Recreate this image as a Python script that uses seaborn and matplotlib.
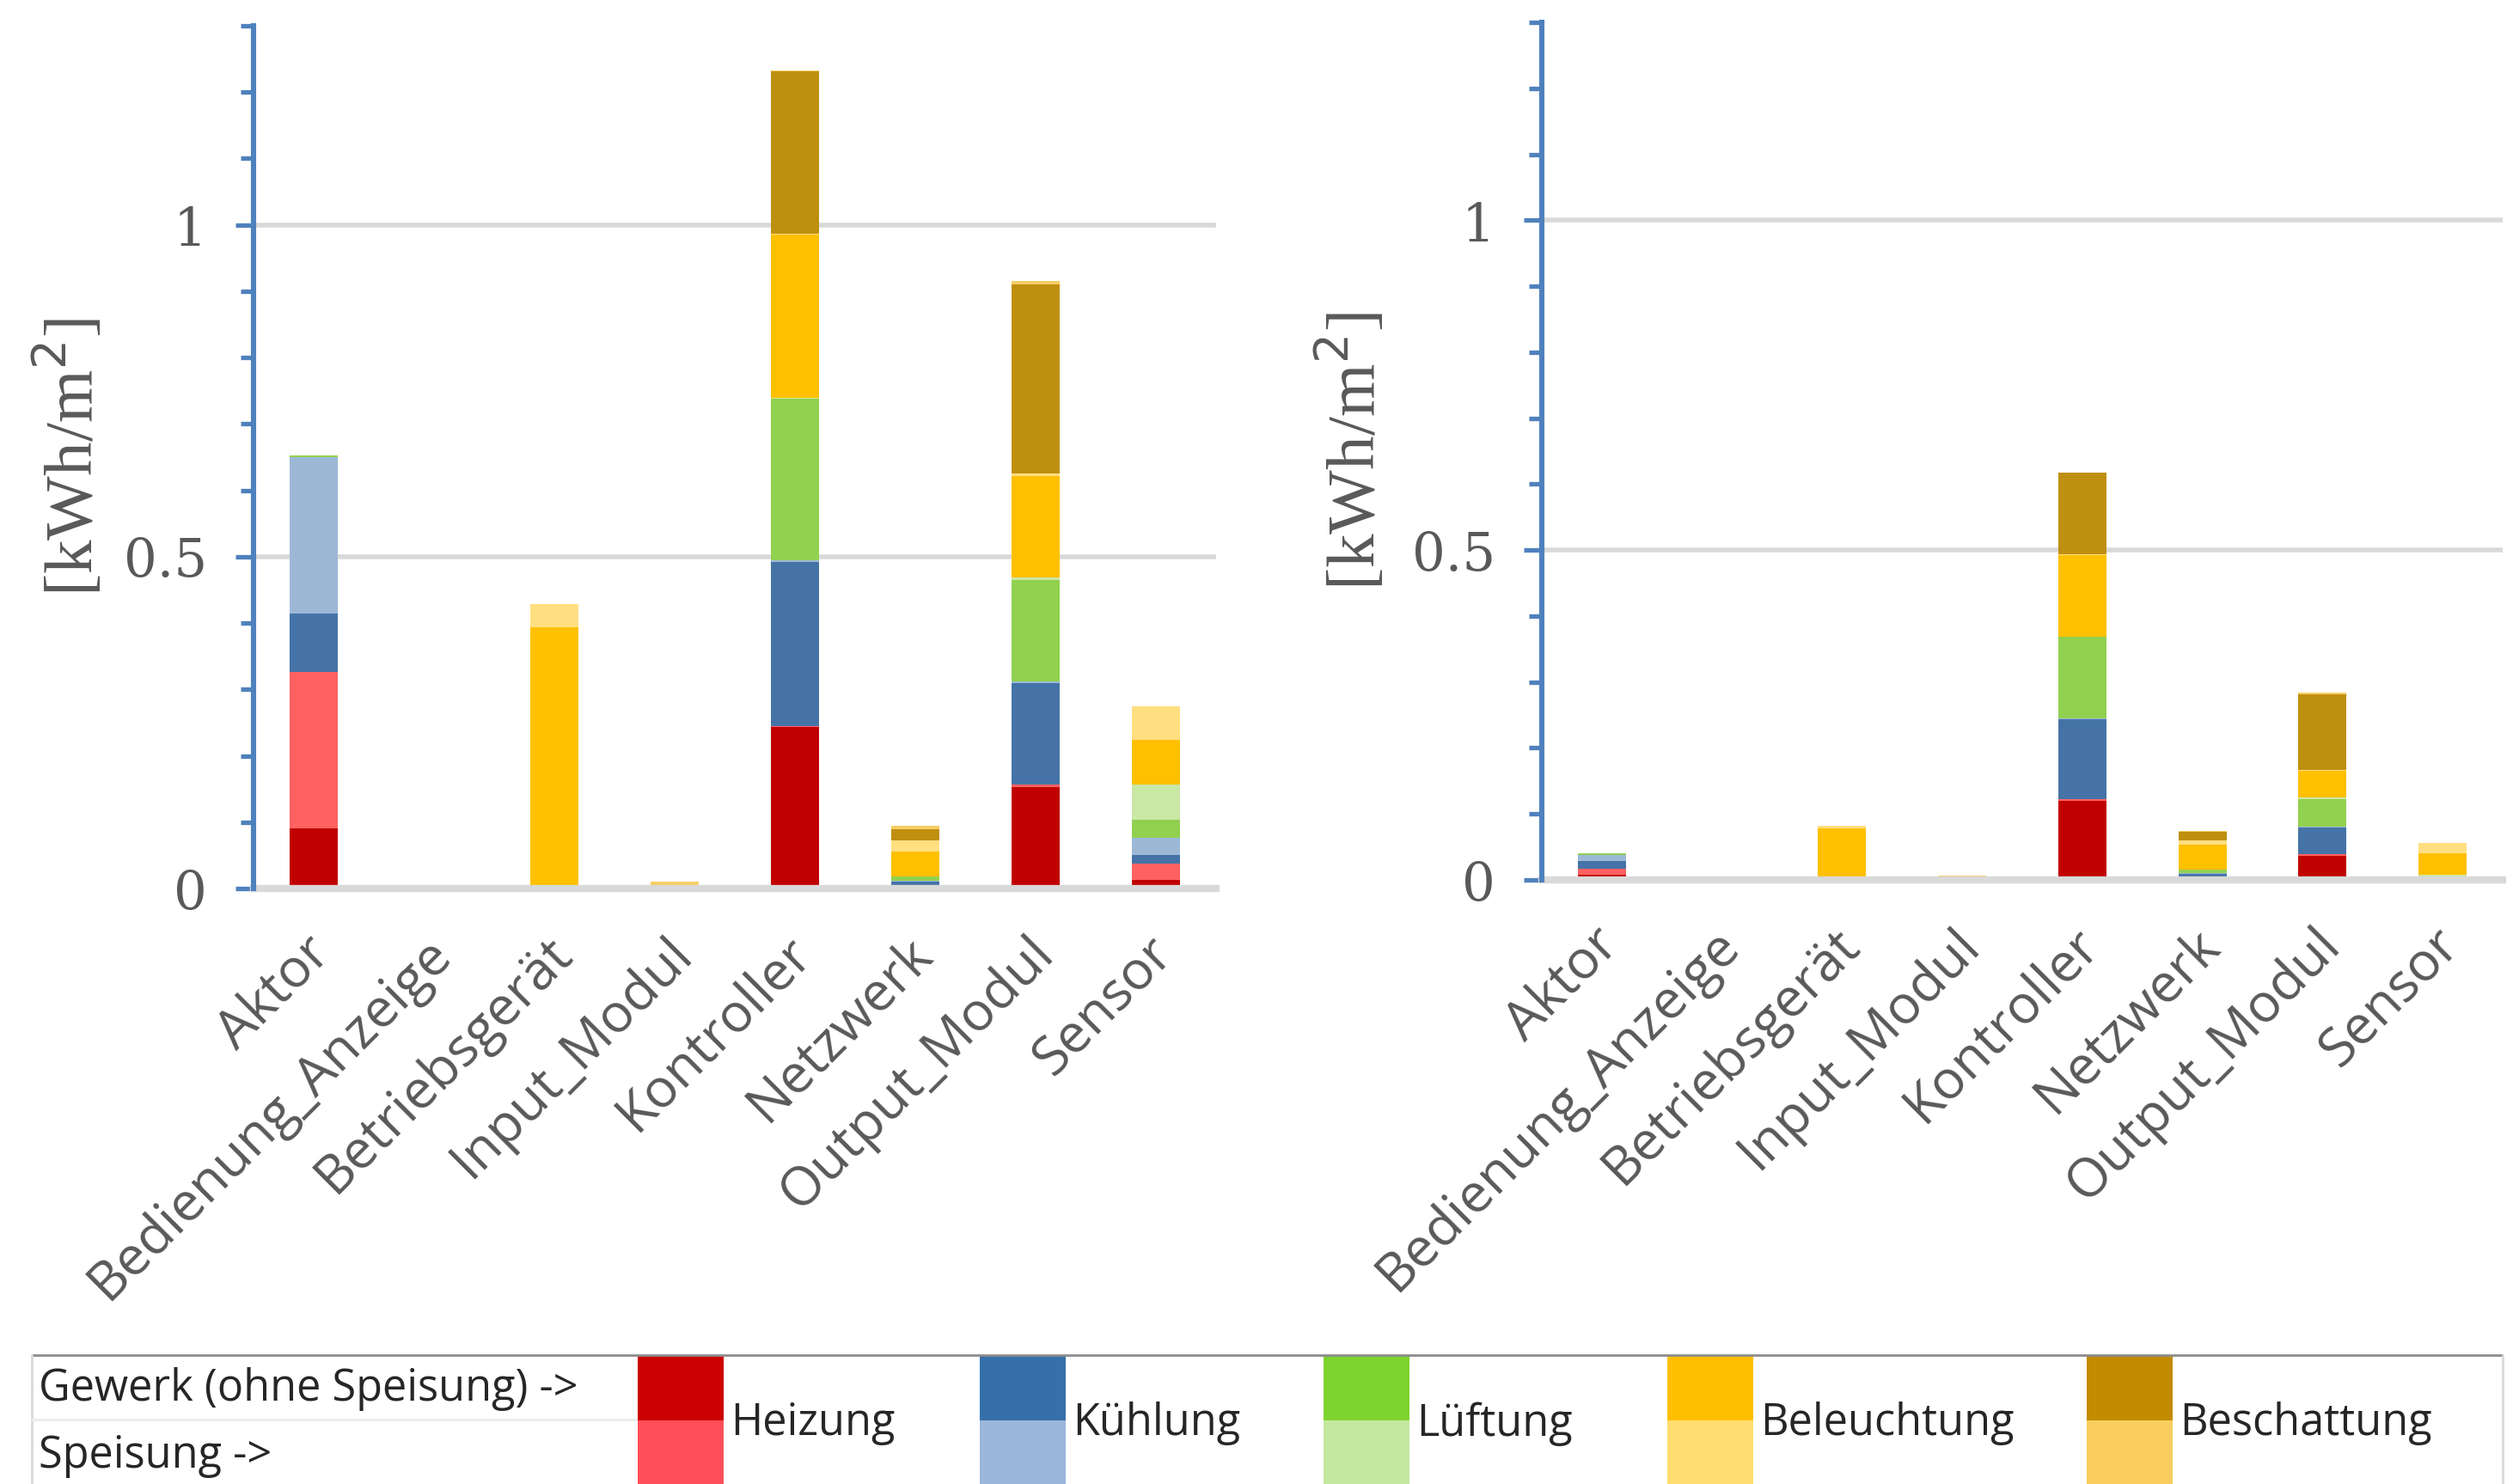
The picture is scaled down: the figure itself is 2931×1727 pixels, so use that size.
import numpy as np
import pandas as pd
import seaborn as sns
import matplotlib.pyplot as plt
from matplotlib.patches import Rectangle
from matplotlib.ticker import FixedLocator
from matplotlib.transforms import ScaledTranslation

categories = ["Aktor", "Bedienung_Anzeige", "Betriebsgerät", "Input_Modul", "Kontroller",
              "Netzwerk", "Output_Modul", "Sensor"]
gewerke = ["Heizung", "Kühlung", "Lüftung", "Beleuchtung", "Beschattung"]

# left panel, values in kWh/m2 (Gewerk without Speisung, then Speisung)
left_heizung = [0.090, 0, 0, 0, 0.243, 0.003, 0.153, 0.013]
left_heizung_sp = [0.236, 0, 0, 0, 0.002, 0.002, 0.004, 0.025]
left_kuehlung = [0.088, 0, 0, 0, 0.247, 0.005, 0.152, 0.013]
left_kuehlung_sp = [0.236, 0, 0, 0, 0.002, 0.002, 0.003, 0.026]
left_lueftung = [0.003, 0, 0, 0, 0.244, 0.006, 0.153, 0.027]
left_lueftung_sp = [0.0, 0, 0, 0, 0.001, 0.0, 0.004, 0.053]
left_beleuchtung = [0, 0, 0.393, 0.001, 0.246, 0.038, 0.152, 0.067]
left_beleuchtung_sp = [0, 0, 0.036, 0, 0.002, 0.016, 0.004, 0.050]
left_beschattung = [0, 0, 0, 0.004, 0.244, 0.017, 0.285, 0]
left_beschattung_sp = [0, 0, 0, 0.005, 0.002, 0.005, 0.005, 0]

# right panel
right_heizung = [0.008, 0, 0, 0, 0.120, 0.003, 0.036, 0.0005]
right_heizung_sp = [0.0095, 0, 0, 0, 0.002, 0.001, 0.003, 0]
right_kuehlung = [0.011, 0, 0, 0, 0.122, 0.005, 0.041, 0.0005]
right_kuehlung_sp = [0.0095, 0, 0, 0, 0.0005, 0.001, 0.001, 0.0005]
right_lueftung = [0.002, 0, 0, 0, 0.124, 0.005, 0.042, 0.003]
right_lueftung_sp = [0.001, 0, 0, 0, 0.0005, 0, 0.002, 0.003]
right_beleuchtung = [0, 0, 0.078, 0.0005, 0.124, 0.039, 0.040, 0.033]
right_beleuchtung_sp = [0, 0, 0.004, 0, 0.001, 0.006, 0.002, 0.016]
right_beschattung = [0, 0, 0, 0.0035, 0.123, 0.013, 0.114, 0]
right_beschattung_sp = [0, 0, 0, 0.002, 0.0005, 0.001, 0.003, 0]

bar_colors = ["#C00000", "#FF6161", "#4573A7", "#9DB8D7", "#92D050", "#CAE8A5",
              "#FFC000", "#FFDF80", "#BF8F0F", "#F7CE66"]
legend_dark = ["#CC0000", "#3670AA", "#7FD32F", "#FFBF00", "#C38B00"]
legend_light = ["#FF4F5A", "#9BB7DB", "#C5E8A0", "#FFDD70", "#F9CE5F"]

left_layers = [left_heizung, left_heizung_sp, left_kuehlung, left_kuehlung_sp, left_lueftung,
               left_lueftung_sp, left_beleuchtung, left_beleuchtung_sp, left_beschattung,
               left_beschattung_sp]
right_layers = [right_heizung, right_heizung_sp, right_kuehlung, right_kuehlung_sp, right_lueftung,
                right_lueftung_sp, right_beleuchtung, right_beleuchtung_sp, right_beschattung,
                right_beschattung_sp]

sns.set_style("white")
plt.rcParams["font.family"] = ["Open Sans", "DejaVu Sans"]

W, H = 2931, 1727
fig = plt.figure(figsize=(W / 200, H / 200), dpi=200)

axis_blue = "#4F81BD"
grey_txt = "#595959"


def stacked_panel(ax, layers):
    cum = np.cumsum(np.array(layers), axis=0)
    # draw the highest cumulative layer first, smaller ones on top
    for i in reversed(range(len(layers))):
        df = pd.DataFrame({"cat": categories, "val": cum[i]})
        sns.barplot(data=df, x="cat", y="val", order=categories, color=bar_colors[i],
                    width=0.4, saturation=1, errorbar=None, linewidth=0, ax=ax)
    ax.set_xlim(-0.5, 7.5)
    ax.set_ylim(0, 1.3)
    ax.set_xlabel("")
    ax.set_ylabel("[kWh/m$^2$]", fontsize=28.5, color=grey_txt, family="Liberation Serif")
    ax.yaxis.set_major_locator(FixedLocator([0, 0.5, 1]))
    ax.yaxis.set_minor_locator(FixedLocator(np.round(np.arange(0, 1.31, 0.1), 2)))
    ax.set_yticklabels(["0", "0.5", "1"], family="DejaVu Serif", fontsize=22, color=grey_txt)
    ax.tick_params(axis="y", which="major", direction="out", length=7.5, width=1.9,
                   color=axis_blue, pad=12, left=True)
    ax.tick_params(axis="y", which="minor", direction="out", length=5.5, width=1.9,
                   color=axis_blue, left=True)
    ax.tick_params(axis="x", length=0, pad=24)
    ax.set_xticks(range(len(categories)))
    ax.set_xticklabels(categories, rotation=45, ha="right", rotation_mode="anchor",
                       fontsize=22.5, color=grey_txt)
    shift = ScaledTranslation(4 / 72, 0, fig.dpi_scale_trans)
    for lab in ax.get_xticklabels():
        lab.set_va("center")
        lab.set_transform(lab.get_transform() + shift)
    for y in [0.5, 1.0]:
        ax.axhline(y, color="#D9D9D9", lw=2.0, zorder=0)
    for s in ["top", "right"]:
        ax.spines[s].set_visible(False)
    ax.spines["left"].set_color(axis_blue)
    ax.spines["left"].set_linewidth(2.2)
    ax.spines["left"].set_zorder(5)
    ax.spines["bottom"].set_color("#D9D9D9")
    ax.spines["bottom"].set_linewidth(3.0)
    ax.set_axisbelow(True)


ax1 = fig.add_axes([295 / W, 1 - 1034 / H, 1120 / W, 1004 / H])
stacked_panel(ax1, left_layers)
ax1.yaxis.set_label_coords(-0.152, 0.5)

ax2 = fig.add_axes([1794 / W, 1 - 1024 / H, 1118 / W, 998 / H])
stacked_panel(ax2, right_layers)
ax2.yaxis.set_label_coords(-0.158, 0.5)

# table-like legend at the bottom
leg = fig.add_axes([0, 0, 1, (H - 1570) / H])
leg.set_xlim(0, W)
leg.set_ylim(H, 1570)
leg.axis("off")
leg.plot([37, 2912], [1577, 1577], color="#8C8C8C", lw=1.0, solid_capstyle="butt")
leg.plot([37, 37], [1577, H], color="#D9D9D9", lw=1.0)
leg.plot([2912, 2912], [1577, H], color="#D9D9D9", lw=1.0)
leg.plot([37, 740], [1652, 1652], color="#EBEBEB", lw=1.0)
leg.text(45, 1617, "Gewerk (ohne Speisung) ->", fontsize=18.2, va="center", ha="left")
leg.text(45, 1694, "Speisung ->", fontsize=18.2, va="center", ha="left")
patch_x = [742, 1140, 1540, 1940, 2428]
for x0, name, dark, light in zip(patch_x, gewerke, legend_dark, legend_light):
    leg.add_patch(Rectangle((x0, 1577), 100, 76, facecolor=dark, edgecolor="none"))
    leg.add_patch(Rectangle((x0, 1653), 100, 80, facecolor=light, edgecolor="none"))
    leg.text(x0 + 108, 1657, name, fontsize=18.2, va="center", ha="left")

fig.savefig("out.png", dpi=200, facecolor="white")
